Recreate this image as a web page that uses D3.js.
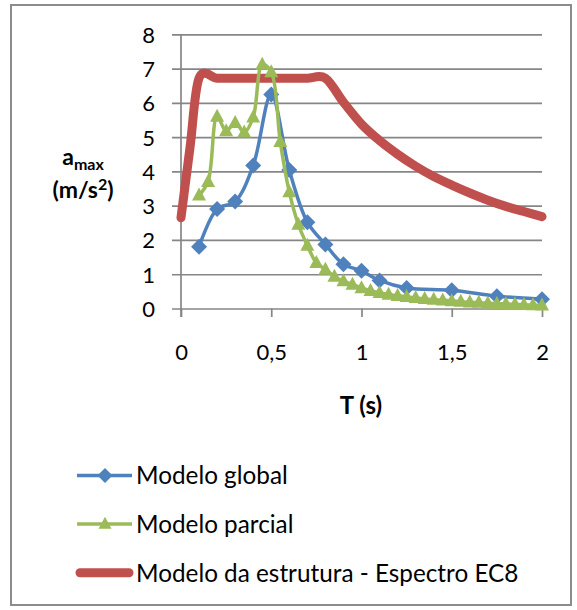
<!DOCTYPE html>
<html>
<head>
<meta charset="utf-8">
<script src="https://cdn.jsdelivr.net/npm/d3@7"></script>
<style>
  html, body { margin: 0; padding: 0; background: #fff; }
  svg { display: block; font-family: Lato, "Open Sans", sans-serif; }
</style>
</head>
<body>
<svg id="chart" width="577" height="610"></svg>
<script>
// Response spectra: peak acceleration vs period
const tGlobal = [0.1, 0.2, 0.3, 0.4, 0.5, 0.6, 0.7, 0.8, 0.9, 1.0, 1.1, 1.25, 1.5, 1.75, 2.0];
const aGlobal = [1.8, 2.9, 3.12, 4.17, 6.24, 4.04, 2.52, 1.87, 1.29, 1.1, 0.82, 0.6, 0.53, 0.36, 0.27];

const tParcial = [0.1, 0.15, 0.2, 0.25, 0.3, 0.35, 0.4, 0.45, 0.5, 0.55, 0.6, 0.65, 0.7, 0.75, 0.8,
                  0.85, 0.9, 0.95, 1.0, 1.05, 1.1, 1.15, 1.2, 1.25, 1.3, 1.35, 1.4, 1.45, 1.5,
                  1.55, 1.6, 1.65, 1.7, 1.75, 1.8, 1.85, 1.9, 1.95, 2.0];
const aParcial = [3.3, 3.7, 5.6, 5.18, 5.42, 5.14, 5.58, 7.12, 6.9, 4.86, 3.4, 2.45, 1.84, 1.33, 1.14,
                  0.93, 0.8, 0.7, 0.6, 0.52, 0.46, 0.41, 0.37, 0.34, 0.31, 0.28, 0.26, 0.24, 0.22,
                  0.2, 0.18, 0.17, 0.15, 0.14, 0.13, 0.12, 0.11, 0.1, 0.09];

const tEC8 = [0, 0.05, 0.1, 0.2, 0.3, 0.4, 0.5, 0.6, 0.7, 0.8, 0.9, 1.0,
              1.1, 1.2, 1.3, 1.4, 1.5, 1.6, 1.7, 1.8, 1.9, 2.0];
const aEC8 = [2.65, 4.7, 6.72, 6.72, 6.72, 6.72, 6.72, 6.72, 6.72, 6.72, 6.02, 5.38,
              4.9, 4.5, 4.15, 3.85, 3.6, 3.37, 3.16, 2.98, 2.83, 2.68];

const yTicks = [0, 1, 2, 3, 4, 5, 6, 7, 8];
const xTicks = [0, 0.5, 1, 1.5, 2];
const xTickLabels = ["0", "0,5", "1", "1,5", "2"];

const seriesNames = ["Modelo global", "Modelo parcial", "Modelo da estrutura - Espectro EC8"];
const colors = { global: "#4F81BD", parcial: "#9BBB59", ec8: "#C0504D" };

const svg = d3.select("#chart");
const gridColor = "#868686";
const tickFont = 22;

// outer chart frame
svg.append("rect")
  .attr("x", 11).attr("y", 5).attr("width", 560).attr("height", 600)
  .attr("fill", "#fff").attr("stroke", "#8c8c8c").attr("stroke-width", 2);

const x = d3.scaleLinear().domain([0, 2]).range([181, 542]);
const y = d3.scaleLinear().domain([0, 8]).range([308.5, 34.3]);

// horizontal gridlines + y labels
const yAxis = svg.append("g")
  .attr("transform", "translate(172,0)")
  .call(d3.axisLeft(y).tickValues(yTicks).tickSize(-(542 - 172)).tickPadding(17).tickFormat(d3.format("d")));
yAxis.select(".domain").remove();
yAxis.selectAll(".tick line").attr("stroke", gridColor).attr("stroke-width", 1.7);
yAxis.selectAll(".tick text")
  .attr("font-size", tickFont).attr("fill", "#000").attr("font-family", "Lato, sans-serif").attr("dy", "0.36em");

// x axis ticks and labels
const xAxis = svg.append("g")
  .attr("transform", `translate(0,${y(0)})`)
  .call(d3.axisBottom(x).tickValues(xTicks).tickSize(8.5).tickPadding(0)
    .tickFormat((d, i) => xTickLabels[i]));
xAxis.select(".domain").remove();
xAxis.selectAll(".tick line").attr("stroke", gridColor).attr("stroke-width", 1.7);
xAxis.selectAll(".tick text")
  .attr("y", 352 - y(0)).attr("dy", "0.36em")
  .attr("font-size", tickFont).attr("fill", "#000").attr("font-family", "Lato, sans-serif");

// vertical axis line
svg.append("line")
  .attr("x1", x(0)).attr("x2", x(0)).attr("y1", y(8)).attr("y2", y(0) + 8.5)
  .attr("stroke", gridColor).attr("stroke-width", 1.7);

const smooth = d3.line().x(d => x(d[0])).y(d => y(d[1])).curve(d3.curveCatmullRom.alpha(0.5));
const smoothUniform = d3.line().x(d => x(d[0])).y(d => y(d[1])).curve(d3.curveCatmullRom.alpha(0));
const zip = (a, b) => a.map((v, i) => [v, b[i]]);

const dGlobal = zip(tGlobal, aGlobal);
const dParcial = zip(tParcial, aParcial);
const dEC8 = zip(tEC8, aEC8);

const diamond = (cx, cy, r) => `M${cx},${cy - r}L${cx + r},${cy}L${cx},${cy + r}L${cx - r},${cy}Z`;
const triangle = (cx, cy, w, h) => `M${cx},${cy - h * 0.6}L${cx + w / 2},${cy + h * 0.4}L${cx - w / 2},${cy + h * 0.4}Z`;

// EC8 spectrum
svg.append("path").datum(dEC8).attr("d", smoothUniform)
  .attr("fill", "none").attr("stroke", colors.ec8).attr("stroke-width", 9)
  .attr("stroke-linejoin", "round").attr("stroke-linecap", "round");

// global model
svg.append("path").datum(dGlobal).attr("d", smooth)
  .attr("fill", "none").attr("stroke", colors.global).attr("stroke-width", 3.5).attr("stroke-linejoin", "round");
svg.append("g").selectAll("path").data(dGlobal).join("path")
  .attr("d", d => diamond(x(d[0]), y(d[1]), 8)).attr("fill", colors.global);

// partial model
svg.append("path").datum(dParcial).attr("d", smooth)
  .attr("fill", "none").attr("stroke", colors.parcial).attr("stroke-width", 3.5).attr("stroke-linejoin", "round");
svg.append("g").selectAll("path").data(dParcial).join("path")
  .attr("d", d => triangle(x(d[0]), y(d[1]), 14, 13)).attr("fill", colors.parcial);

// axis titles
const yTitle = svg.append("text").attr("font-weight", "bold").attr("font-size", 23)
  .attr("text-anchor", "middle").attr("fill", "#000");
yTitle.append("tspan").attr("x", 83).attr("y", 165).text("a")
  .append("tspan").attr("font-size", 16).attr("dy", 5).text("max");
const yTitle2 = svg.append("text").attr("font-weight", "bold").attr("font-size", 23)
  .attr("text-anchor", "middle").attr("fill", "#000").attr("x", 83).attr("y", 198);
yTitle2.append("tspan").text("(m/s");
yTitle2.append("tspan").attr("font-size", 16).attr("dy", -8).text("2");
yTitle2.append("tspan").attr("dy", 8).text(")");

svg.append("text").attr("x", 361).attr("y", 405).attr("dy", "0.36em")
  .attr("text-anchor", "middle").attr("font-weight", "bold").attr("font-size", 24).text("T (s)");

// legend
const legendY = [475.5, 524, 572.8];
const lg = svg.append("g");
seriesNames.forEach((name, i) => {
  const ly = legendY[i];
  const c = [colors.global, colors.parcial, colors.ec8][i];
  lg.append("line").attr("x1", i === 2 ? 80 : 77).attr("x2", i === 2 ? 129 : 132)
    .attr("y1", ly).attr("y2", ly).attr("stroke", c)
    .attr("stroke-width", i === 2 ? 9 : 3.5).attr("stroke-linecap", i === 2 ? "round" : "butt");
  if (i === 0) lg.append("path").attr("d", diamond(105, ly, 7.5)).attr("fill", c);
  if (i === 1) lg.append("path").attr("d", triangle(105, ly, 13, 12)).attr("fill", c);
  lg.append("text").attr("x", 136).attr("y", ly).attr("dy", "0.36em")
    .attr("font-size", 24.3).attr("fill", "#000").text(name);
});
</script>
</body>
</html>
